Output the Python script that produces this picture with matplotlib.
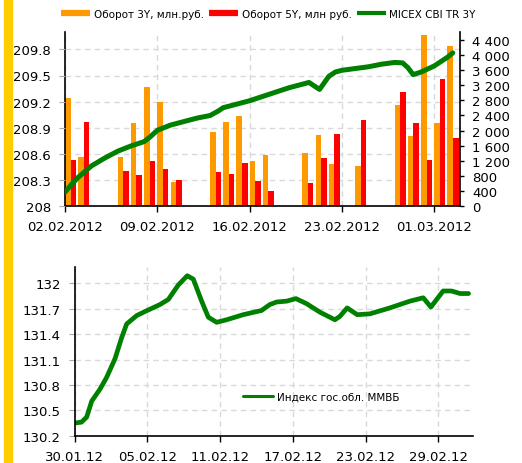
import numpy as np
import matplotlib
matplotlib.use('Agg')
import matplotlib.pyplot as plt
import matplotlib.dates as mdates
from matplotlib.lines import Line2D
from matplotlib.patches import Rectangle
from matplotlib.transforms import blended_transform_factory
from datetime import datetime

# ---- top chart data: turnover (mln rub.) by trading day ----
trade_days = ['02.02.2012', '03.02.2012', '06.02.2012', '07.02.2012', '08.02.2012',
              '09.02.2012', '10.02.2012', '13.02.2012', '14.02.2012', '15.02.2012',
              '16.02.2012', '17.02.2012', '20.02.2012', '21.02.2012', '22.02.2012',
              '24.02.2012', '27.02.2012', '28.02.2012', '29.02.2012', '01.03.2012',
              '02.03.2012']
turnover_3y = [2850, 1300, 1300, 2190, 3160, 2760, 640, 1960, 2220, 2380, 1190,
               1340, 1410, 1880, 1100, 1070, 2680, 1850, 4530, 2190, 4250]
turnover_5y = [1215, 2220, 925, 810, 1190, 985, 695, 900, 845, 1136, 670,
               400, 620, 1280, 1910, 2280, 3020, 2200, 1210, 3360, 1790]

# MICEX CBI TR 3Y (days from 02.02.2012)
cbi_start = '02.02.2012'
cbi_day = [0, 0.5, 1, 2, 3, 4, 5, 6, 6.5, 7, 8, 9, 10, 11, 11.6, 12, 13, 14, 15,
           16, 17, 18, 18.5, 19.3, 20, 20.5, 21, 22, 23, 24, 25, 25.6, 26, 26.4,
           27, 28, 29, 29.4]
cbi_val = [208.16, 208.25, 208.33, 208.46, 208.55, 208.63, 208.69, 208.74, 208.80,
           208.87, 208.93, 208.97, 209.01, 209.04, 209.09, 209.13, 209.17, 209.21,
           209.26, 209.31, 209.36, 209.40, 209.42, 209.34, 209.49, 209.54, 209.56,
           209.58, 209.60, 209.63, 209.65, 209.645, 209.59, 209.51, 209.54, 209.61,
           209.71, 209.76]
top_ticks = ['02.02.2012', '09.02.2012', '16.02.2012', '23.02.2012', '01.03.2012']
left_ticks = [208, 208.3, 208.6, 208.9, 209.2, 209.5, 209.8]
right_ticks = [0, 400, 800, 1200, 1600, 2000, 2400, 2800, 3200, 3600, 4000, 4400]

# ---- bottom chart data: MMVB gov. bond index (days from 30.01.2012) ----
mm_start = '30.01.2012'
mm_day = [0, 0.55, 0.98, 1.4, 2.08, 2.63, 3.32, 3.87, 4.28, 5.11, 5.98, 7.03, 7.72,
          8.54, 9.28, 9.78, 10.47, 11.02, 11.71, 12.53, 13.9, 15.42, 16.1, 16.66,
          17.48, 18.25, 19.13, 20.23, 21.47, 21.88, 22.48, 23.31, 24.36, 26.0,
          27.66, 28.76, 29.39, 30.4, 31.1, 31.8, 32.5]
mm_val = [130.35, 130.36, 130.42, 130.61, 130.75, 130.89, 131.11, 131.36, 131.52,
          131.62, 131.68, 131.75, 131.81, 131.98, 132.09, 132.05, 131.79, 131.60,
          131.54, 131.57, 131.63, 131.68, 131.75, 131.78, 131.79, 131.82, 131.76,
          131.66, 131.57, 131.61, 131.71, 131.63, 131.64, 131.71, 131.79, 131.83,
          131.72, 131.91, 131.91, 131.88, 131.88]
bottom_ticks = ['30.01.12', '05.02.12', '11.02.12', '17.02.12', '23.02.12', '29.02.12']
bottom_yticks = [130.2, 130.5, 130.8, 131.1, 131.4, 131.7, 132]


def dnum(s, fmt='%d.%m.%Y'):
    return mdates.date2num(datetime.strptime(s, fmt))


plt.rcParams['font.family'] = 'DejaVu Sans'
plt.rcParams['font.size'] = 9.5
ORANGE = '#ff9900'
RED = '#ff0000'
GREEN = '#008000'
GRID = '#d9d9d9'

fig = plt.figure(figsize=(5.22, 4.64), dpi=100)
fig.patches.append(Rectangle((4 / 522, 0), 7.5 / 522, 1, transform=fig.transFigure,
                             color='#ffcc00', zorder=0))

# ---------------- top chart ----------------
axb = fig.add_axes([65 / 522, 1 - 207 / 464, 395 / 522, 174 / 464])
axl = axb.twinx()

x_days = np.array([dnum(s) for s in trade_days])
bw = 0.42
axb.bar(x_days, turnover_3y, width=bw, align='edge', color=ORANGE, zorder=2)
axb.bar(x_days + bw, turnover_5y, width=bw, align='edge', color=RED, zorder=2)
axb.set_ylim(0, 4610)
axb.set_xlim(dnum(cbi_start), dnum(cbi_start) + 29.95)
axb.yaxis.tick_right()
axb.set_yticks(right_ticks)
axb.set_yticklabels(['{:,}'.format(v).replace(',', ' ') for v in right_ticks])
axb.set_xticks([dnum(s) for s in top_ticks])
axb.set_xticklabels(top_ticks)
axb.tick_params(axis='y', length=3, width=1, pad=6, color='black')
axb.tick_params(axis='x', length=4, width=1, pad=6)
axb.set_axisbelow(True)
axb.grid(axis='x', color=GRID, linestyle=(0, (4, 3)), linewidth=1)
for side in ['top']:
    axb.spines[side].set_visible(False)
for side in ['left', 'right', 'bottom']:
    axb.spines[side].set_linewidth(1.2)

# horizontal grid at the left-axis ticks, under the bars
tr = blended_transform_factory(axb.transAxes, axl.transData)
for y in left_ticks[1:]:
    axb.plot([0, 1], [y, y], transform=tr, color=GRID, linestyle=(0, (4, 3)),
             linewidth=1, zorder=1)

cbi_x = dnum(cbi_start) + np.array(cbi_day)
axl.plot(cbi_x, cbi_val, color=GREEN, linewidth=3.6, solid_joinstyle='round',
         solid_capstyle='round', zorder=3)
axl.set_ylim(208, 210)
axl.yaxis.tick_left()
axl.set_yticks(left_ticks)
axl.set_yticklabels(['{:g}'.format(v) for v in left_ticks])
axl.tick_params(axis='y', length=4, color='#aaaaaa', pad=6)
for side in axl.spines:
    axl.spines[side].set_visible(False)

leg_handles = [Line2D([], [], color=ORANGE, linewidth=4.5, solid_capstyle='butt'),
               Line2D([], [], color=RED, linewidth=4.5, solid_capstyle='butt'),
               Line2D([], [], color=GREEN, linewidth=3, solid_capstyle='butt')]
leg_labels = ['Оборот 3Y, млн.руб.', 'Оборот 5Y, млн руб.', 'MICEX CBI TR 3Y']
fig.legend(leg_handles, leg_labels, loc='center', bbox_to_anchor=(0.514, 0.968),
           ncol=3, frameon=False, fontsize=7.5, handlelength=2.8,
           handletextpad=0.35, columnspacing=0.5)

# ---------------- bottom chart ----------------
ax2 = fig.add_axes([74.8 / 522, 1 - 436.7 / 464, 398 / 522, 168.4 / 464])
mm_x = dnum(mm_start) + np.array(mm_day)
ax2.plot(mm_x, mm_val, color=GREEN, linewidth=3.4, solid_joinstyle='round',
         solid_capstyle='round', label='Индекс гос.обл. ММВБ')
ax2.set_ylim(130.2, 132.19)
ax2.set_xlim(dnum(mm_start), dnum(mm_start) + 32.85)
ax2.set_yticks(bottom_yticks)
ax2.set_yticklabels(['{:g}'.format(v) for v in bottom_yticks])
ax2.set_xticks([dnum(s, '%d.%m.%y') for s in bottom_ticks])
ax2.set_xticklabels(bottom_ticks)
ax2.tick_params(axis='y', length=4, color='#aaaaaa', pad=6)
ax2.tick_params(axis='x', length=4, width=1, pad=6)
ax2.set_axisbelow(True)
ax2.grid(color=GRID, linestyle=(0, (4, 3)), linewidth=1)
ax2.spines['top'].set_visible(False)
ax2.spines['right'].set_visible(False)
for side in ['left', 'bottom']:
    ax2.spines[side].set_linewidth(1.2)
ax2.legend(loc='center', bbox_to_anchor=(0.616, 0.144), bbox_transform=fig.transFigure,
           frameon=False, fontsize=7.5, handlelength=2.9, handletextpad=0.4)
ax2.get_legend().get_lines()[0].set_linewidth(2.2)

plt.savefig('out.png', dpi=100)
